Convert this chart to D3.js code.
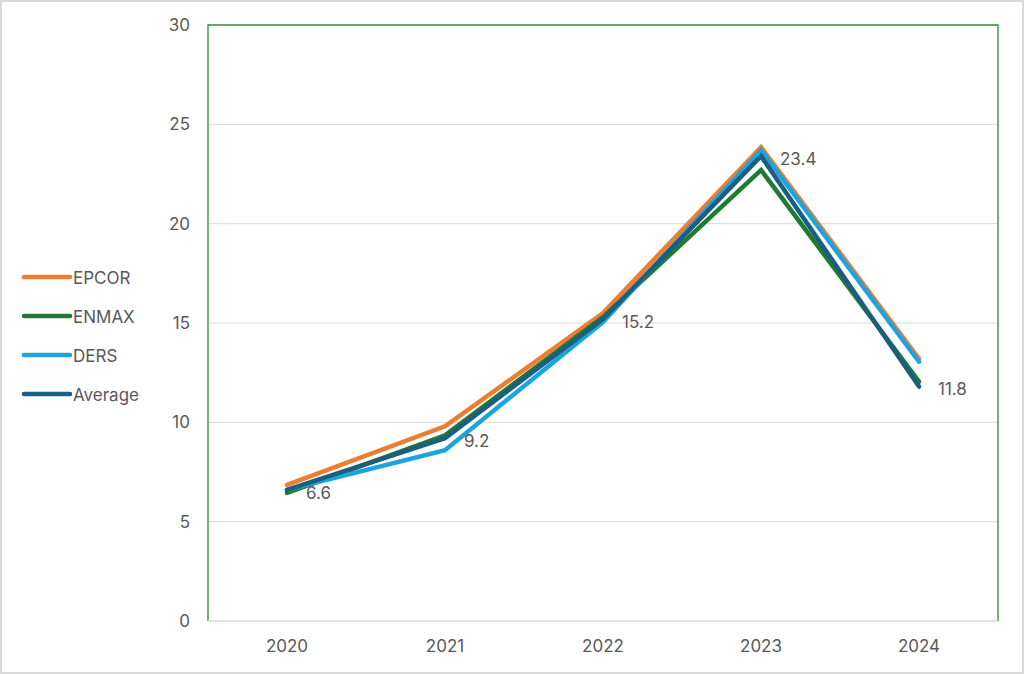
<!DOCTYPE html>
<html>
<head>
<meta charset="utf-8">
<script src="https://cdn.jsdelivr.net/npm/d3@7"></script>
<style>
	body { margin: 0; background: #fff; }
	svg { display: block; font-family: Inter, "Open Sans", sans-serif; }
</style>
</head>
<body>
<div id="chart"></div>
<script>
// data
const years = ['2020', '2021', '2022', '2023', '2024'];
const epcor = [6.85, 9.8, 15.5, 23.85, 13.2];
const enmax = [6.45, 9.35, 15.3, 22.7, 12.05];
const ders = [6.6, 8.6, 15.05, 23.7, 13.05];
const average = [6.6, 9.2, 15.2, 23.4, 11.8];
const yTicks = [0, 5, 10, 15, 20, 25, 30];

const series = [
	{ name: 'EPCOR', values: epcor, color: '#ED7D31' },
	{ name: 'ENMAX', values: enmax, color: '#1F7A33' },
	{ name: 'DERS', values: ders, color: '#1CA4DF' },
	{ name: 'Average', values: average, color: '#1C5E80' }
];

// dimension stuff
const width = 1024;
const height = 674;
const marginTop = 25;
const marginBottom = 53;
const marginLeft = 208;
const marginRight = 26;
const textColor = '#595959';
const fontSize = '17px';

const $svg = d3.select('#chart').append('svg')
	.attr('width', width)
	.attr('height', height);

// outer frame
$svg.append('rect')
	.attr('x', 1).attr('y', 1)
	.attr('width', width - 2).attr('height', height - 2)
	.attr('fill', '#fff')
	.attr('stroke', '#d9d9d9')
	.attr('stroke-width', 2);

// scales
const scaleX = d3.scaleBand()
	.domain(years)
	.range([marginLeft, width - marginRight]);

const scaleY = d3.scaleLinear()
	.domain([0, 30])
	.range([height - marginBottom, marginTop]);

// grid
$svg.append('g').attr('class', 'g-grid')
	.selectAll('line')
	.data(yTicks.filter(d => d > 0 && d < 30))
	.join('line')
	.attr('x1', marginLeft)
	.attr('x2', width - marginRight)
	.attr('y1', d => scaleY(d))
	.attr('y2', d => scaleY(d))
	.attr('stroke', '#d9d9d9')
	.attr('stroke-width', 1);

// plot area border (green)
$svg.append('path')
	.attr('d', `M${marginLeft},${scaleY(0)}V${scaleY(30)}H${width - marginRight}V${scaleY(0)}`)
	.attr('fill', 'none')
	.attr('stroke', '#2f8a3a')
	.attr('stroke-width', 1.3);

// x axis line
$svg.append('line')
	.attr('x1', marginLeft)
	.attr('x2', width - marginRight)
	.attr('y1', scaleY(0))
	.attr('y2', scaleY(0))
	.attr('stroke', '#d9d9d9')
	.attr('stroke-width', 1.5);

// y axis labels
const axisY = d3.axisLeft(scaleY).tickValues(yTicks).tickSize(0).tickPadding(18);
$svg.append('g')
	.attr('transform', `translate(${marginLeft},0)`)
	.call(axisY)
	.call(g => g.select('.domain').remove())
	.selectAll('text')
	.attr('fill', textColor)
	.style('font-size', fontSize)
	.style('font-family', 'Inter, "Open Sans", sans-serif');

// x axis labels
const axisX = d3.axisBottom(scaleX).tickSize(0).tickPadding(19);
$svg.append('g')
	.attr('transform', `translate(0,${scaleY(0)})`)
	.call(axisX)
	.call(g => g.select('.domain').remove())
	.selectAll('text')
	.attr('fill', textColor)
	.style('font-size', fontSize)
	.style('font-family', 'Inter, "Open Sans", sans-serif');

// lines
const line = d3.line()
	.x((d, i) => scaleX(years[i]) + scaleX.bandwidth() / 2)
	.y(d => scaleY(d));

$svg.append('g').attr('class', 'g-vis')
	.selectAll('path')
	.data(series)
	.join('path')
	.attr('d', d => line(d.values))
	.attr('fill', 'none')
	.attr('stroke', d => d.color)
	.attr('stroke-width', 4.5)
	.attr('stroke-linecap', 'round')
	.attr('stroke-linejoin', 'miter');

// average labels
$svg.append('g').attr('class', 'g-labels')
	.selectAll('text')
	.data(average)
	.join('text')
	.attr('x', (d, i) => scaleX(years[i]) + scaleX.bandwidth() / 2 + 19)
	.attr('y', d => scaleY(d) + 4)
	.attr('dominant-baseline', 'middle')
	.attr('fill', textColor)
	.style('font-size', fontSize)
	.text(d => d3.format('.1f')(d));

// legend
const $legend = $svg.append('g').attr('class', 'g-legend')
	.selectAll('g')
	.data(series)
	.join('g')
	.attr('transform', (d, i) => `translate(24, ${277 + i * 39})`);

$legend.append('line')
	.attr('x1', 0).attr('x2', 46)
	.attr('stroke', d => d.color)
	.attr('stroke-width', 4.5)
	.attr('stroke-linecap', 'round');

$legend.append('text')
	.attr('x', 49)
	.attr('y', 2)
	.attr('dominant-baseline', 'middle')
	.attr('fill', textColor)
	.style('font-size', fontSize)
	.text(d => d.name);
</script>
</body>
</html>
